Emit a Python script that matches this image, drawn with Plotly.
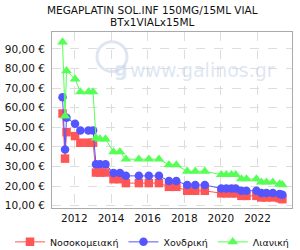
import plotly.graph_objects as go

dates = ["2011-05-10", "2011-06-29", "2011-07-29", "2012-01-15", "2012-04-30", "2012-10-08",
         "2013-01-08", "2013-03-07", "2013-05-27", "2013-09-13", "2014-02-20", "2014-06-28",
         "2014-10-25", "2015-07-10", "2016-01-25", "2016-08-14", "2017-03-01", "2017-07-27",
         "2018-03-01", "2018-08-08", "2019-02-15", "2020-01-10", "2020-04-20", "2020-07-30",
         "2020-10-22", "2021-02-14", "2021-05-25", "2021-12-10", "2022-03-18", "2022-06-28",
         "2022-11-02", "2023-03-18", "2023-05-12"]

hospital = [57.0, 34.0, 47.5, 45.5, 42.1, 42.1, 42.1, 26.9, 26.9, 26.9, 23.5, 23.5, 21.5, 21.5,
            21.5, 21.5, 19.6, 19.6, 17.6, 17.6, 17.6, 16.3, 16.3, 16.3, 16.3, 15.0, 15.0, 15.0,
            14.2, 14.2, 14.2, 13.8, 13.3]
wholesale = [65.3, 38.7, 54.8, 51.8, 48.4, 48.4, 48.4, 31.1, 31.1, 31.1, 26.7, 26.7, 25.2, 25.2,
             25.2, 25.2, 22.6, 22.6, 20.5, 20.5, 20.5, 18.8, 18.8, 18.8, 18.8, 17.6, 17.6, 17.6,
             16.4, 16.4, 16.4, 16.0, 15.6]
retail = [93.5, 55.7, 78.8, 74.6, 68.0, 68.0, 68.0, 44.5, 44.0, 44.0, 37.4, 37.4, 33.7, 33.7,
          33.7, 33.7, 30.8, 30.8, 27.5, 27.5, 27.5, 25.8, 25.8, 25.8, 25.8, 23.6, 23.6, 23.6,
          22.0, 22.0, 22.0, 21.0, 20.6]

series_names = ["Νοσοκομειακή", "Χονδρική", "Λιανική"]
title_lines = ["MEGAPLATIN SOL.INF 150MG/15ML VIAL", "BTx1VIALx15ML"]
y_ticks = [10, 20, 30, 40, 50, 60, 70, 80, 90]
y_ticktext = ["10,00 €", "20,00 €", "30,00 €", "40,00 €", "50,00 €", "60,00 €", "70,00 €",
              "80,00 €", "90,00 €"]

FONT = "DejaVu Sans"
WM = "rgba(200,214,234,0.6)"

fig = go.Figure()
styles = [("#ff5555", "square", 8.5), ("#5555ff", "circle", 8.5), ("#55ff55", "triangle-up", 9.5)]
for name, vals, (col, sym, sz) in zip(series_names, [hospital, wholesale, retail], styles):
    fig.add_trace(go.Scatter(
        x=dates, y=vals, name=name, mode="lines+markers",
        line=dict(color=col, width=1),
        marker=dict(color=col, symbol=sym, size=sz, line=dict(width=0)),
    ))

# watermark
fig.add_annotation(xref="paper", yref="paper", x=0.625, y=0.858, text="www.galinos.gr",
                   showarrow=False, font=dict(family=FONT, size=19, color=WM))
fig.add_annotation(xref="paper", yref="paper", x=0.25, y=0.865, text="<b>g</b>",
                   showarrow=False, font=dict(family=FONT, size=19, color=WM))
fig.add_shape(type="circle", xref="paper", yref="paper", x0=0.1875, x1=0.3125, y0=0.775, y1=0.945,
              line=dict(color=WM, width=3), layer="below")

# title
for i, t in enumerate(title_lines):
    fig.add_annotation(xref="paper", yref="paper", x=0.4167, y=(208 - 10 - 12 * i) / 176,
                       text=t, showarrow=False, xanchor="center", yanchor="middle",
                       font=dict(family=FONT, size=10.5, color="#111"))

fig.update_layout(
    width=300, height=250,
    margin=dict(l=52, r=8, t=32, b=42, autoexpand=False),
    paper_bgcolor="white", plot_bgcolor="white",
    font=dict(family=FONT, size=10, color="#111"),
    showlegend=True,
    legend=dict(orientation="h", x=-0.175, xanchor="left", y=-0.11, yanchor="top",
                font=dict(family=FONT, size=9.5, color="#111"),
                tracegroupgap=0, bgcolor="rgba(0,0,0,0)"),
    xaxis=dict(type="date", range=["2010-10-12", "2023-11-20"],
               tick0="2012-01-01", dtick="M24", tickformat="%Y",
               showgrid=True, gridcolor="#dddddd", griddash="dash", gridwidth=1,
               showline=True, linecolor="#aaaaaa", linewidth=1, mirror=True,
               ticks="", zeroline=False, tickfont=dict(family=FONT, size=10.5)),
    yaxis=dict(range=[8.8, 98.6], tickvals=y_ticks, ticktext=y_ticktext,
               showgrid=True, gridcolor="#dddddd", griddash="dash", gridwidth=1,
               showline=True, linecolor="#aaaaaa", linewidth=1, mirror=True,
               ticks="", zeroline=False, ticklabelstandoff=4,
               tickfont=dict(family=FONT, size=10.5)),
)

fig.write_html("out.html")
